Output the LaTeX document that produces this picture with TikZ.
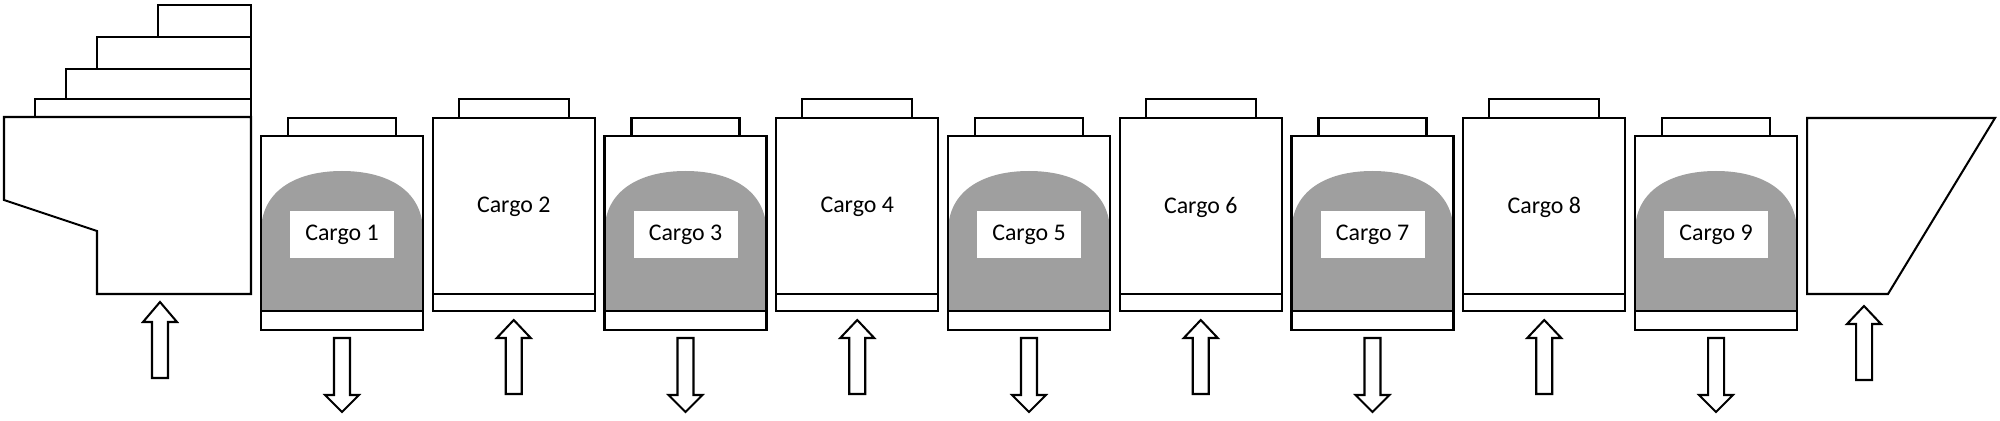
\documentclass[tikz,border=0pt]{standalone}
\usepackage{fontspec}
\setmainfont{Carlito}
\begin{document}
\begin{tikzpicture}[x=0.05cm,y=-0.05cm,line width=2.9pt,line join=miter,
  lbl/.style={font=\fontsize{34}{36}\selectfont,inner sep=0pt},
  wbox/.style={fill=white,draw=none,minimum width=104*0.05cm,minimum height=47*0.05cm}]
\useasboundingbox (0,0) rectangle (2000,421);
% stern
\draw (35,99) rectangle (251,117);
\draw (66,69) rectangle (251,99);
\draw (97,37) rectangle (251,69);
\draw (158,5) rectangle (251,37);
\draw (4,117) -- (251,117) -- (251,294) -- (97,294) -- (97,231) -- (4,200) -- cycle;
\def\uparr#1#2#3#4{\draw (#1,#2) -- (#1+17,#3) -- (#1+8,#3) -- (#1+8,#4) -- (#1-8,#4) -- (#1-8,#3) -- (#1-17,#3) -- cycle;}
\uparr{160}{302}{322}{378}
% odd cargos
\foreach \i in {1,3,5,7,9}{
  \pgfmathsetmacro\xl{261+(\i-1)*171.75}
  \pgfmathsetmacro\xr{\xl+162}
  \pgfmathsetmacro\xc{\xl+81}
  \fill[gray!75] (\xl,311) -- (\xl,232) .. controls (\xl,190) and (\xl+36,171) .. (\xc,171) .. controls (\xr-36,171) and (\xr,190) .. (\xr,232) -- (\xr,311) -- cycle;
  \draw (\xl+27,118) rectangle (\xr-27,136);
  \draw (\xl,136) rectangle (\xr,330);
  \draw (\xl,311) -- (\xr,311);
  \node[wbox] (w\i) at (\xc,234.5) {};
  \node[lbl] (c\i) at (\xc,234.5) {Cargo \i};
  \uparr{\xc}{412}{395}{338}
}
% even cargos
\foreach \i in {2,4,6,8}{
  \pgfmathsetmacro\xl{261+(\i-1)*171.75}
  \pgfmathsetmacro\xr{\xl+162}
  \pgfmathsetmacro\xc{\xl+81}
  \draw (\xl+26,99) rectangle (\xr-26,118);
  \draw (\xl,118) rectangle (\xr,311);
  \draw (\xl,294) -- (\xr,294);
  \node[lbl] (c\i) at (\xc,207) {Cargo \i};
  \uparr{\xc}{320}{338}{394}
}
% bow
\draw (1807,118) -- (1995,118) -- (1888,294) -- (1807,294) -- cycle;
\uparr{1864}{306}{324}{380}
\end{tikzpicture}
\end{document}
